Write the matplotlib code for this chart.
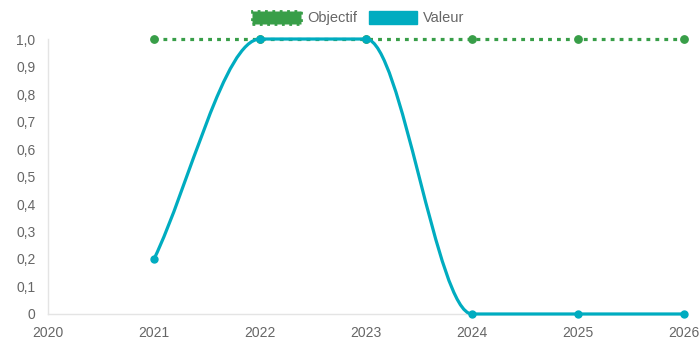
import numpy as np
import matplotlib.pyplot as plt
from matplotlib.path import Path
from matplotlib.patches import PathPatch, Patch

plt.rcParams['font.family'] = ['Liberation Sans', 'DejaVu Sans']

years = [2021, 2022, 2023, 2024, 2025, 2026]
objectif = [1, 1, 1, 1, 1, 1]
valeur = [0.2, 1, 1, 0, 0, 0]
y_ticks = [0, 0.1, 0.2, 0.3, 0.4, 0.5, 0.6, 0.7, 0.8, 0.9, 1.0]
y_labels = ['0', '0,1', '0,2', '0,3', '0,4', '0,5', '0,6', '0,7', '0,8', '0,9', '1,0']
x_ticks = [2020, 2021, 2022, 2023, 2024, 2025, 2026]

green = '#389e48'
teal = '#00acc0'
grey = '#666666'


def monotone_path(xs, ys):
    # monotone cubic (Fritsch-Carlson), same idea as chart.js cubicInterpolationMode
    xs = np.asarray(xs, float)
    ys = np.asarray(ys, float)
    n = len(xs)
    d = np.diff(ys) / np.diff(xs)
    m = np.zeros(n)
    m[0] = d[0]
    m[-1] = d[-1]
    for k in range(1, n - 1):
        if d[k - 1] == 0 or d[k] == 0 or np.sign(d[k - 1]) != np.sign(d[k]):
            m[k] = 0
        else:
            m[k] = (d[k - 1] + d[k]) / 2
    for k in range(n - 1):
        if d[k] == 0:
            m[k] = m[k + 1] = 0
            continue
        a = m[k] / d[k]
        b = m[k + 1] / d[k]
        t = a * a + b * b
        if t > 9:
            s = 3 / np.sqrt(t)
            m[k] = s * a * d[k]
            m[k + 1] = s * b * d[k]
    verts = [(xs[0], ys[0])]
    codes = [Path.MOVETO]
    for k in range(n - 1):
        h = (xs[k + 1] - xs[k]) / 3
        verts += [(xs[k] + h, ys[k] + m[k] * h),
                  (xs[k + 1] - h, ys[k + 1] - m[k + 1] * h),
                  (xs[k + 1], ys[k + 1])]
        codes += [Path.CURVE4] * 3
    return Path(verts, codes)


fig = plt.figure(figsize=(6.99, 3.42), dpi=100)
ax = fig.add_axes([0.0687, 0.0819, 0.91, 0.804])

ax.plot(years, objectif, color=green, lw=2.3, ls=(0, (1.2, 1.6)),
        marker='o', ms=5.3, clip_on=False, zorder=3)

ax.add_patch(PathPatch(monotone_path(years, valeur), facecolor='none',
                       edgecolor=teal, lw=2.3, clip_on=False, zorder=4))
ax.plot(years, valeur, ls='none', marker='o', ms=5, color=teal,
        clip_on=False, zorder=4)

ax.set_xlim(2020, 2026)
ax.set_ylim(0, 1)
ax.set_xticks(x_ticks)
ax.set_xticklabels([str(x) for x in x_ticks])
ax.set_yticks(y_ticks)
ax.set_yticklabels(y_labels)
ax.tick_params(length=0, labelsize=10, labelcolor=grey)
ax.tick_params(axis='y', pad=9)
ax.tick_params(axis='x', pad=9)
for s in ['top', 'right']:
    ax.spines[s].set_visible(False)
for s in ['left', 'bottom']:
    ax.spines[s].set_color('#e4e4e4')
    ax.spines[s].set_linewidth(1)

handles = [Patch(facecolor=green, edgecolor=green, lw=2, ls=':'),
           Patch(facecolor=teal, edgecolor=teal)]
fig.legend(handles, ['Objectif', 'Valeur'], loc='upper center',
           bbox_to_anchor=(0.513, 1.005), ncol=2, frameon=False,
           handlelength=3.3, handleheight=0.9, handletextpad=0.45,
           columnspacing=0.8, fontsize=10.5, labelcolor=grey)

fig.savefig('out.png', dpi=100)
